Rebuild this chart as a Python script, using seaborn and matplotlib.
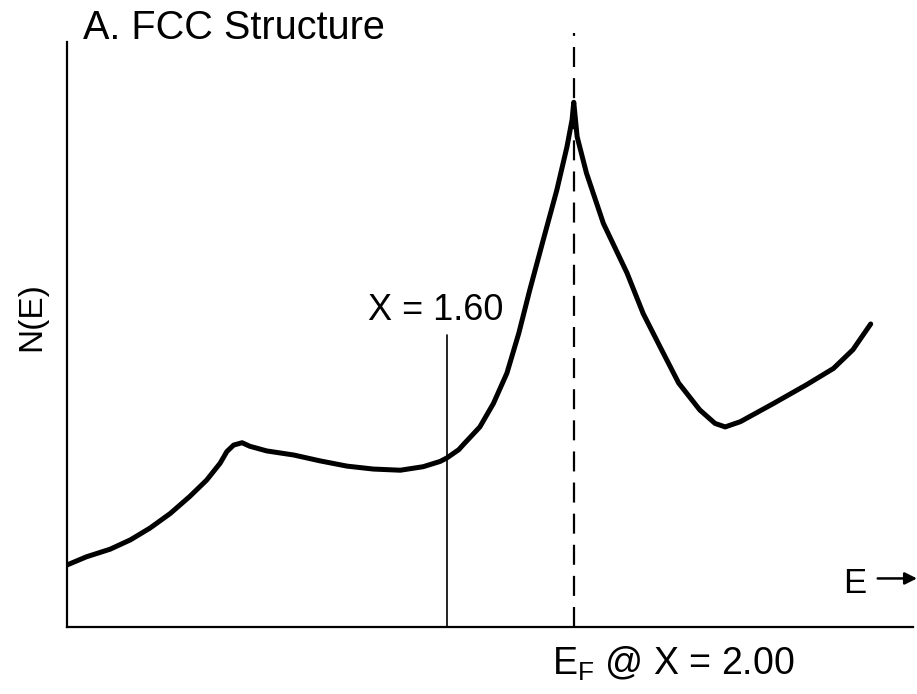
import matplotlib
matplotlib.use("Agg")
import matplotlib.pyplot as plt
import seaborn as sns
import pandas as pd

# Density of states N(E) for the FCC structure (arbitrary units)
energy = [0.00, 0.23, 0.51, 0.75, 0.98, 1.22, 1.45, 1.65, 1.81, 1.89,
          1.97, 2.07, 2.16, 2.36, 2.68, 2.99, 3.31, 3.62, 3.94, 4.21,
          4.41, 4.49, 4.63, 4.68, 4.88, 5.04, 5.20, 5.34, 5.47, 5.63,
          5.79, 5.91, 5.97, 5.99, 6.03, 6.14, 6.34, 6.62, 6.81, 7.01,
          7.23, 7.48, 7.66, 7.78, 7.96, 8.35, 8.74, 9.06, 9.29, 9.50]
dos = [1.06, 1.20, 1.33, 1.49, 1.69, 1.94, 2.23, 2.51, 2.80, 3.00,
       3.11, 3.15, 3.09, 3.01, 2.94, 2.84, 2.75, 2.70, 2.68, 2.74,
       2.83, 2.89, 3.03, 3.11, 3.42, 3.82, 4.34, 5.02, 5.76, 6.62,
       7.47, 8.21, 8.67, 8.97, 8.38, 7.76, 6.90, 6.05, 5.36, 4.79,
       4.17, 3.71, 3.48, 3.42, 3.51, 3.82, 4.14, 4.42, 4.74, 5.18]

# Band filling markers
fill_energy = 4.49      # energy reached at X = 1.60
fermi_energy = 5.99     # Fermi level at X = 2.00
fill_label = "X = 1.60"
fermi_label = "E$_F$ @ X = 2.00"
title = "A. FCC Structure"
ylabel = "N(E)"
xlabel = "E"

sns.set_style("white")
plt.rcParams["font.family"] = ["Liberation Sans", "DejaVu Sans"]
plt.rcParams["mathtext.default"] = "regular"
plt.rcParams["text.color"] = "black"

fig = plt.figure(figsize=(9.17, 6.94), dpi=100)
ax = fig.add_axes([67 / 917, 1 - 627 / 694, 846 / 917, 585 / 694])

df = pd.DataFrame({"E": energy, "N": dos})
sns.lineplot(data=df, x="E", y="N", ax=ax, color="black", linewidth=3.6,
             sort=False, solid_capstyle="round", solid_joinstyle="round")

ax.set_xlim(0, 10)
ax.set_ylim(0, 10)
ax.set_xticks([])
ax.set_yticks([])
ax.set_xlabel("")
ax.set_ylabel("")
for side in ("top", "right"):
    ax.spines[side].set_visible(False)
for side in ("left", "bottom"):
    ax.spines[side].set_color("black")
    ax.spines[side].set_linewidth(1.6)

# X = 1.60 filling level
ax.plot([fill_energy, fill_energy], [0, 5.0], color="black", lw=1.2)
ax.text(fill_energy - 0.13, 5.25, fill_label, ha="center", va="baseline",
        fontsize=26)

# Fermi level at X = 2.00
ax.plot([fermi_energy, fermi_energy], [0, 10.15], color="black", lw=1.6,
        dashes=(9, 5), clip_on=False)
ax.text(5.73, -0.82, fermi_label, ha="left", va="baseline", fontsize=27)

# Title and axis labels
ax.text(0.19, 10.05, title, ha="left", va="baseline", fontsize=28.5)
ax.text(-0.42, 5.3, ylabel, ha="center", va="center", rotation=90,
        fontsize=24)
ax.text(9.17, 0.58, xlabel, ha="left", va="baseline", fontsize=25)
ax.annotate("", xy=(10.08, 0.83), xytext=(9.55, 0.83),
            arrowprops=dict(arrowstyle="-|>", color="black", lw=1.8,
                            mutation_scale=18),
            annotation_clip=False)

fig.savefig("out.png", dpi=100)
